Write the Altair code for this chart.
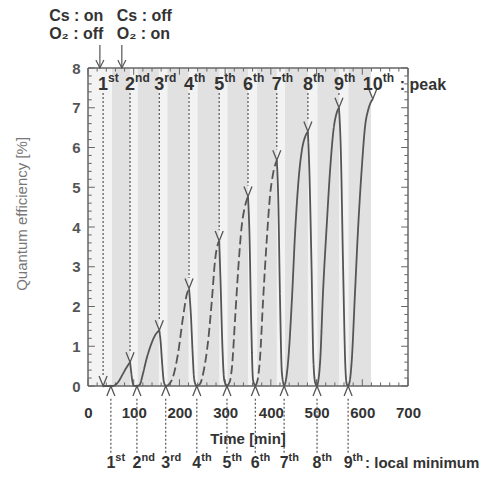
import altair as alt
import pandas as pd

FONT = "Liberation Sans"
INK = "#555555"
TXT = "#333333"

# ---------------- data ----------------
peak_t = [33, 92, 156, 221, 287, 350, 413, 481, 549, 623]
peak_q = [0.0, 0.6, 1.4, 2.45, 3.65, 4.77, 5.68, 6.4, 7.0, 7.22]
peak_num = ["1", "2", "3", "4", "5", "6", "7", "8", "9", "10"]
peak_sup = ["st", "nd", "rd", "th", "th", "th", "th", "th", "th", "th"]

min_t = [50, 107, 170, 238, 304, 366, 429, 501, 569]
min_num = ["1", "2", "3", "4", "5", "6", "7", "8", "9"]
min_sup = ["st", "nd", "rd", "th", "th", "th", "th", "th", "th"]

# shaded process bands (minutes)
light_x0 = [0, 92, 155, 220, 287, 350, 413, 481, 549]
light_x1 = [52, 109, 174, 240, 305, 370, 431, 502, 570]
dark_x0 = [52]
dark_x1 = [619]

# curve segments: (style, time, QE)
segments = [
    ("solid", [33, 55, 60, 66, 77, 85, 92], [0.0, 0.0, 0.03, 0.1, 0.32, 0.48, 0.6]),
    ("solid", [92, 94, 97, 100, 107], [0.6, 0.4, 0.12, 0.01, 0.0]),
    ("solid", [107, 113, 120, 128, 136, 147, 156], [0.0, 0.03, 0.3, 0.68, 0.98, 1.28, 1.4]),
    ("solid", [156, 159, 162, 166, 170], [1.4, 1.1, 0.6, 0.1, 0.0]),
    ("dashed", [170, 176, 186, 197, 208, 216, 221], [0.0, 0.03, 0.23, 0.82, 1.74, 2.3, 2.45]),
    ("solid", [221, 225, 229, 232, 236, 238], [2.45, 1.8, 0.8, 0.2, 0.02, 0.0]),
    ("dashed", [238, 245, 252, 263, 271, 278, 285, 287], [0.0, 0.05, 0.32, 1.16, 2.16, 3.17, 3.6, 3.65]),
    ("solid", [287, 290, 294, 298, 304], [3.65, 2.6, 1.0, 0.15, 0.0]),
    ("dashed", [304, 310, 315, 322, 329, 336, 343, 350], [0.0, 0.1, 0.48, 1.74, 3.0, 4.0, 4.5, 4.77]),
    ("solid", [350, 353, 357, 361, 366], [4.77, 3.9, 1.6, 0.15, 0.0]),
    ("dashed", [366, 371, 376, 383, 391, 398, 405, 413], [0.0, 0.15, 0.65, 2.16, 3.67, 4.77, 5.35, 5.68]),
    ("solid", [413, 416, 420, 424, 429], [5.68, 4.8, 2.2, 0.35, 0.0]),
    ("solid", [429, 433, 438, 446, 453, 460, 468, 475, 481], [0.0, 0.15, 0.65, 2.16, 3.85, 5.1, 5.94, 6.27, 6.4]),
    ("solid", [481, 484, 489, 493, 497, 501], [6.4, 5.5, 3.0, 0.65, 0.08, 0.0]),
    ("solid", [501, 504, 508, 514, 522, 530, 537, 544, 549], [0.0, 0.15, 0.65, 2.33, 4.0, 5.5, 6.44, 6.87, 7.0]),
    ("solid", [549, 553, 558, 563, 566, 569], [7.0, 5.94, 3.0, 0.48, 0.05, 0.0]),
    ("solid", [569, 573, 577, 584, 591, 599, 606, 613, 618, 623], [0.0, 0.15, 0.65, 2.33, 4.0, 5.5, 6.52, 6.95, 7.12, 7.22]),
]

x_major = [0, 100, 200, 300, 400, 500, 600, 700]
x_minor = [v for v in range(20, 700, 20) if v % 100 != 0]
y_major = [0, 1, 2, 3, 4, 5, 6, 7, 8]
y_minor = [round(v * 0.2, 1) for v in range(1, 40) if v % 5 != 0]

switch_t = [26, 74]
switch_line1 = ["Cs : on", "Cs : off"]
switch_line2 = ["O\u2082 : off", "O\u2082 : on"]
switch_text_x = [-85, 63]

# ---------------- scales & axes ----------------
xs = alt.Scale(domain=[0, 700], nice=False, zero=False)
ys = alt.Scale(domain=[0, 8], nice=False, zero=False)

XAX = alt.Axis(values=x_major, domain=False, ticks=False, tickSize=0, grid=False,
               labelFont=FONT, labelFontSize=15, labelFontWeight="bold",
               labelColor=TXT, labelPadding=19, labelFlush=False, labelOverlap=False,
               title=None)
YAX = alt.Axis(values=y_major, domain=False, ticks=False, tickSize=0, grid=False,
               labelFont=FONT, labelFontSize=15, labelFontWeight="bold",
               labelColor=INK, labelPadding=8, labelFlush=False, labelOverlap=False,
               title=None)


def X(f):
    return alt.X(f, scale=xs, axis=XAX)


def Y(f):
    return alt.Y(f, scale=ys, axis=YAX)


curve_rows = []
for i, (style, ts, qs) in enumerate(segments):
    for t, q in zip(ts, qs):
        curve_rows.append({"t": t, "q": q, "seg": i, "style": style})
curve_df = pd.DataFrame(curve_rows)

dark_df = pd.DataFrame({"x0": dark_x0, "x1": dark_x1, "y0": [0] * len(dark_x0), "y1": [8] * len(dark_x0)})
light_df = pd.DataFrame({"x0": light_x0, "x1": light_x1, "y0": [0] * len(light_x0), "y1": [8] * len(light_x0)})

dark = alt.Chart(dark_df).mark_rect(color="#e1e1e1").encode(
    x=X("x0:Q"), x2="x1:Q", y=Y("y0:Q"), y2="y1:Q")
light = alt.Chart(light_df).mark_rect(color="#f3f3f3").encode(
    x=X("x0:Q"), x2="x1:Q", y=Y("y0:Q"), y2="y1:Q")

# inward ticks
hticks = []
for v in x_major:
    hticks += [{"t": v, "a": 0, "b": 0.17}, {"t": v, "a": 8, "b": 7.83}]
for v in x_minor:
    hticks += [{"t": v, "a": 0, "b": 0.09}, {"t": v, "a": 8, "b": 7.91}]
vticks = []
for v in y_major:
    vticks += [{"q": v, "a": 0, "b": 15}, {"q": v, "a": 700, "b": 685}]
for v in y_minor:
    vticks += [{"q": v, "a": 0, "b": 8}, {"q": v, "a": 700, "b": 692}]

ht = alt.Chart(pd.DataFrame(hticks)).mark_rule(color="#666", strokeWidth=1).encode(
    x=X("t:Q"), y=Y("a:Q"), y2="b:Q")
vt = alt.Chart(pd.DataFrame(vticks)).mark_rule(color="#666", strokeWidth=1).encode(
    y=Y("q:Q"), x=X("a:Q"), x2="b:Q")

frame_df = pd.DataFrame({"a": [0, 700, 0, 0], "b": [0, 700, 700, 700],
                         "c": [0, 0, 0, 8], "d": [8, 8, 0, 8]})
frame = alt.Chart(frame_df).mark_rule(color="#666", strokeWidth=1.5).encode(
    x=X("a:Q"), x2="b:Q", y=Y("c:Q"), y2="d:Q")

# dotted guide lines
top_guides = pd.DataFrame({"t": peak_t[:9], "a": [7.37] * 9, "b": [q + 0.27 for q in peak_q[:9]]})
bot_guides = pd.DataFrame({"t": min_t, "a": [-0.32] * len(min_t), "b": [-1.68] * len(min_t)})
dotted = dict(color=INK, strokeWidth=1.2, strokeDash=[2, 2])
tg = alt.Chart(top_guides).mark_rule(**dotted).encode(x=X("t:Q"), y=Y("a:Q"), y2="b:Q")
bg = alt.Chart(bot_guides).mark_rule(**dotted).encode(x=X("t:Q"), y=Y("a:Q"), y2="b:Q")

curve = alt.Chart(curve_df).mark_line(interpolate="monotone", color=INK, strokeWidth=1.8).encode(
    x=X("t:Q"),
    y=Y("q:Q"),
    detail="seg:N",
    strokeDash=alt.StrokeDash("style:N", scale=alt.Scale(domain=["solid", "dashed"], range=[[1, 0], [9, 4]]), legend=None),
)

V_DOWN = "M-0.4,-1L0,0L0.4,-1"
V_UP = "M-0.4,1L0,0L0.4,1"
peak_marks = alt.Chart(pd.DataFrame({"t": peak_t, "q": peak_q})).mark_point(
    shape=V_DOWN, size=400, filled=False, color=INK, strokeWidth=1.3, opacity=1).encode(
    x=X("t:Q"), y=Y("q:Q"))
min_marks = alt.Chart(pd.DataFrame({"t": min_t, "q": [0] * len(min_t)})).mark_point(
    shape=V_UP, size=400, filled=False, color=INK, strokeWidth=1.3, opacity=1).encode(
    x=X("t:Q"), y=Y("q:Q"))

# switch arrows on top
arrow_df = pd.DataFrame({"t": switch_t, "a": [8.58] * 2, "b": [8.0] * 2})
arrow_shaft = alt.Chart(arrow_df).mark_rule(color=INK, strokeWidth=1.2).encode(
    x=X("t:Q"), y=Y("a:Q"), y2="b:Q")
arrow_head = alt.Chart(arrow_df).mark_point(
    shape="M-0.5,-1L0,0L0.5,-1", size=256, filled=False, color=INK, strokeWidth=1.2, opacity=1).encode(
    x=X("t:Q"), y=Y("b:Q"))


def text_layer(df, **props):
    base = dict(font=FONT, fontWeight="bold", color=TXT)
    base.update(props)
    return alt.Chart(df).mark_text(**base).encode(x=X("x:Q"), y=Y("y:Q"), text="s:N")


top_num = text_layer(pd.DataFrame({"x": peak_t, "y": [7.45] * 10, "s": peak_num}),
                     fontSize=18, align="center", baseline="alphabetic")
top_sup1 = text_layer(pd.DataFrame({"x": peak_t[:9], "y": [7.45] * 9, "s": peak_sup[:9]}),
                      fontSize=12, align="left", baseline="alphabetic", dx=5, dy=-8)
top_sup2 = text_layer(pd.DataFrame({"x": peak_t[9:], "y": [7.45], "s": peak_sup[9:]}),
                      fontSize=12, align="left", baseline="alphabetic", dx=10, dy=-8)
top_tail = text_layer(pd.DataFrame({"x": peak_t[9:], "y": [7.45], "s": [": peak"]}),
                      fontSize=16, align="left", baseline="alphabetic", dx=27)

BOT_Y = -2.06
bot_num = text_layer(pd.DataFrame({"x": min_t, "y": [BOT_Y] * 9, "s": min_num}),
                     fontSize=16, align="center", baseline="alphabetic")
bot_sup = text_layer(pd.DataFrame({"x": min_t, "y": [BOT_Y] * 9, "s": min_sup}),
                     fontSize=11, align="left", baseline="alphabetic", dx=4.5, dy=-7)
bot_tail = text_layer(pd.DataFrame({"x": min_t[-1:], "y": [BOT_Y], "s": [": local minimum"]}),
                      fontSize=15, align="left", baseline="alphabetic", dx=17)

sw1 = text_layer(pd.DataFrame({"x": switch_text_x, "y": [9.18] * 2, "s": switch_line1}),
                 fontSize=16, align="left", baseline="alphabetic")
sw2 = text_layer(pd.DataFrame({"x": switch_text_x, "y": [8.73] * 2, "s": switch_line2}),
                 fontSize=16, align="left", baseline="alphabetic")

xtitle = text_layer(pd.DataFrame({"x": [350], "y": [-1.45], "s": ["Time [min]"]}),
                    fontSize=15, align="center", baseline="alphabetic")
ytitle = text_layer(pd.DataFrame({"x": [-144], "y": [4.33], "s": ["Quantum efficiency [%]"]}),
                    fontSize=15, align="center", baseline="middle", angle=270,
                    fontWeight="normal", color="#777777")

chart = alt.layer(
    dark, light, ht, vt, frame, tg, bg, curve, peak_marks, min_marks,
    arrow_shaft, arrow_head, top_num, top_sup1, top_sup2, top_tail,
    bot_num, bot_sup, bot_tail, sw1, sw2, xtitle, ytitle,
).properties(
    width=320, height=318,
    padding={"left": 80, "top": 60, "right": 73, "bottom": 85},
    autosize=alt.AutoSizeParams(type="none"),
    background="white",
).configure_view(stroke=None)

chart.save("out.html", embed_options={"renderer": "svg", "actions": False})
